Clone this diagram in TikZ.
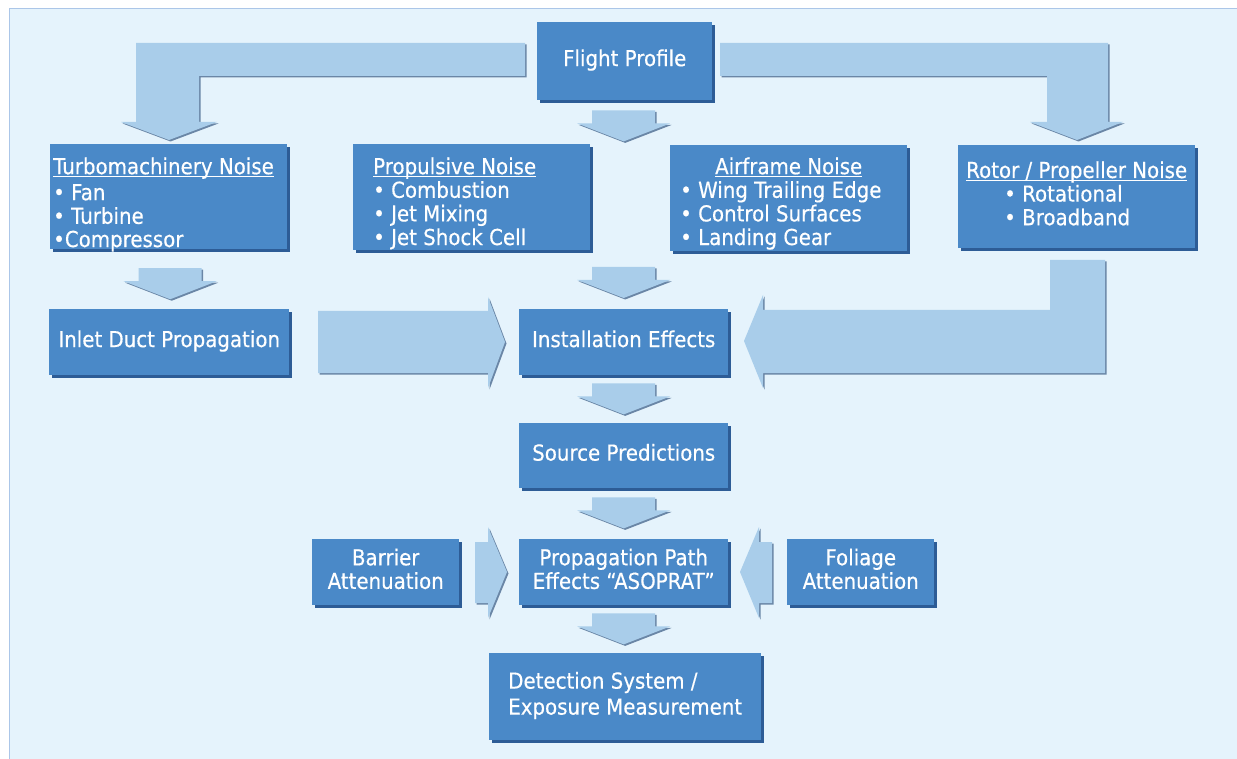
\documentclass[tikz,border=0pt]{standalone}
\usepackage{fontspec}
\setmainfont{DejaVu Sans}[FakeStretch=0.9, FakeBold=0.4]
\usetikzlibrary{calc}
\definecolor{panel}{HTML}{E5F3FC}
\definecolor{panelborder}{HTML}{ABC6E8}
\definecolor{boxfill}{HTML}{4A89C8}
\definecolor{boxshadow}{HTML}{2D5C96}
\definecolor{arrfill}{HTML}{A9CDEA}
\definecolor{arrshadow}{HTML}{6A86A6}
\newcommand\myul[1]{\setbox0\hbox{#1}\rlap{\rule[-2.5pt]{\wd0}{0.9pt}}\box0}
\newcommand\boxlines[1]{\begin{tabular}{@{}c@{}}#1\end{tabular}}
\newcommand\leftlines[1]{\begin{tabular}{@{}l@{}}#1\end{tabular}}
\newcommand\listlines[1]{\begin{tabular}{@{}p{231pt}@{}}#1\end{tabular}}
\begin{document}
\begin{tikzpicture}[x=1pt,y=-1pt,
  box/.style={fill=boxfill, text=white, inner xsep=3pt, inner ysep=0pt, anchor=north west,
    font=\fontsize{22}{23}\selectfont,
    preaction={fill=boxshadow, transform canvas={xshift=3pt,yshift=-3pt}}},
  blockarrow/.style={fill=arrfill,
    preaction={fill=arrshadow, transform canvas={xshift=1.5pt,yshift=-1.5pt}}},
  dnarrow/.pic={\path[blockarrow] (-31.5,0) -- (31.5,0) -- (31.5,13) -- (46.5,13)
     -- (0,31) -- (-46.5,13) -- (-31.5,13) -- cycle;}
  ]
\useasboundingbox (0,0) rectangle (1237,759);
\fill[white] (0,0) rectangle (1237,759);
\path[fill=panel, draw=panelborder, line width=1.5pt] (9.5,8.5) rectangle (1245,770);

% boxes
\node[box, minimum width=175, minimum height=78] (flight) at (537,22) {\boxlines{Flight Profile}};
\node[box, minimum width=237, minimum height=104] (turbo) at (50,144)
  {\listlines{\rule{0pt}{30pt}\myul{Turbomachinery Noise}\\[3pt]• Fan\\• Turbine\\•Compressor\\[-4.9pt]}};
\node[box, minimum width=237, minimum height=104] (prop) at (353,144)
  {\listlines{\rule{0pt}{30pt}\hspace*{17pt}\myul{Propulsive Noise}\\\hspace*{17pt}• Combustion\\\hspace*{17pt}• Jet Mixing\\\hspace*{17pt}• Jet Shock Cell\\[-1.9pt]}};
\node[box, minimum width=237, minimum height=104] (air) at (670,145)
  {\listlines{\rule{0pt}{29pt}\makebox[\linewidth]{\myul{Airframe Noise}}\\\hspace*{7pt}• Wing Trailing Edge\\\hspace*{7pt}• Control Surfaces\\\hspace*{7pt}• Landing Gear\\[-0.9pt]}};
\node[box, minimum width=237, minimum height=103] (rotor) at (958,145)
  {\listlines{\makebox[\linewidth]{\myul{Rotor / Propeller Noise}}\\\hspace*{43pt}• Rotational\\\hspace*{43pt}• Broadband}};
\node[box, minimum width=240, minimum height=66] (inlet) at (49,309) {\boxlines{Inlet Duct Propagation}};
\node[box, minimum width=209, minimum height=66] (inst) at (519,309) {\boxlines{Installation Effects}};
\node[box, minimum width=209, minimum height=65] (source) at (519,423) {\boxlines{Source Predictions}};
\node[box, minimum width=147, minimum height=66] (barrier) at (312,539) {\boxlines{Barrier\\Attenuation}};
\node[box, minimum width=209, minimum height=66] (path) at (519,539) {\boxlines{Propagation Path\\Effects “ASOPRAT”}};
\node[box, minimum width=147, minimum height=66] (foliage) at (787,539) {\boxlines{Foliage\\Attenuation}};
\node[box, minimum width=272, minimum height=87] (detect) at (489,653)
  {\leftlines{Detection System /\\[3pt]Exposure Measurement}};

% straight down arrows
\pic at ($(flight.south)+(-1,10)$) {dnarrow};
\pic at ($(turbo.south)+(1.5,19)$) {dnarrow};
\pic at ($(inst.north)+(0,-42)$) {dnarrow};
\pic at ($(inst.south)+(0,8)$) {dnarrow};
\pic at ($(source.south)+(0,9)$) {dnarrow};
\pic at ($(path.south)+(0,8)$) {dnarrow};

% bent and side arrows
\path[blockarrow] (525,43) -- (136,43) -- (136,122) -- (121,122) -- (169,140)
  -- (217,122) -- (199,122) -- (199,76) -- (525,76) -- cycle;
\path[blockarrow] (720,43) -- (1108,43) -- (1108,122) -- (1123,122) -- (1077,140)
  -- (1030,122) -- (1047,122) -- (1047,76) -- (720,76) -- cycle;
\path[blockarrow] (318,311) -- (488,311) -- (488,297) -- (505,342) -- (488,388)
  -- (488,373) -- (318,373) -- cycle;
\path[blockarrow] (1050,260) -- (1105,260) -- (1105,373) -- (763,373) -- (763,388)
  -- (744,341) -- (763,295) -- (763,310) -- (1050,310) -- cycle;
\path[blockarrow] (475,542) -- (488,542) -- (488,527) -- (507,572) -- (488,618)
  -- (488,603) -- (475,603) -- cycle;
\path[blockarrow] (772,542) -- (759,542) -- (759,527) -- (740,572) -- (759,618)
  -- (759,603) -- (772,603) -- cycle;
\end{tikzpicture}
\end{document}
